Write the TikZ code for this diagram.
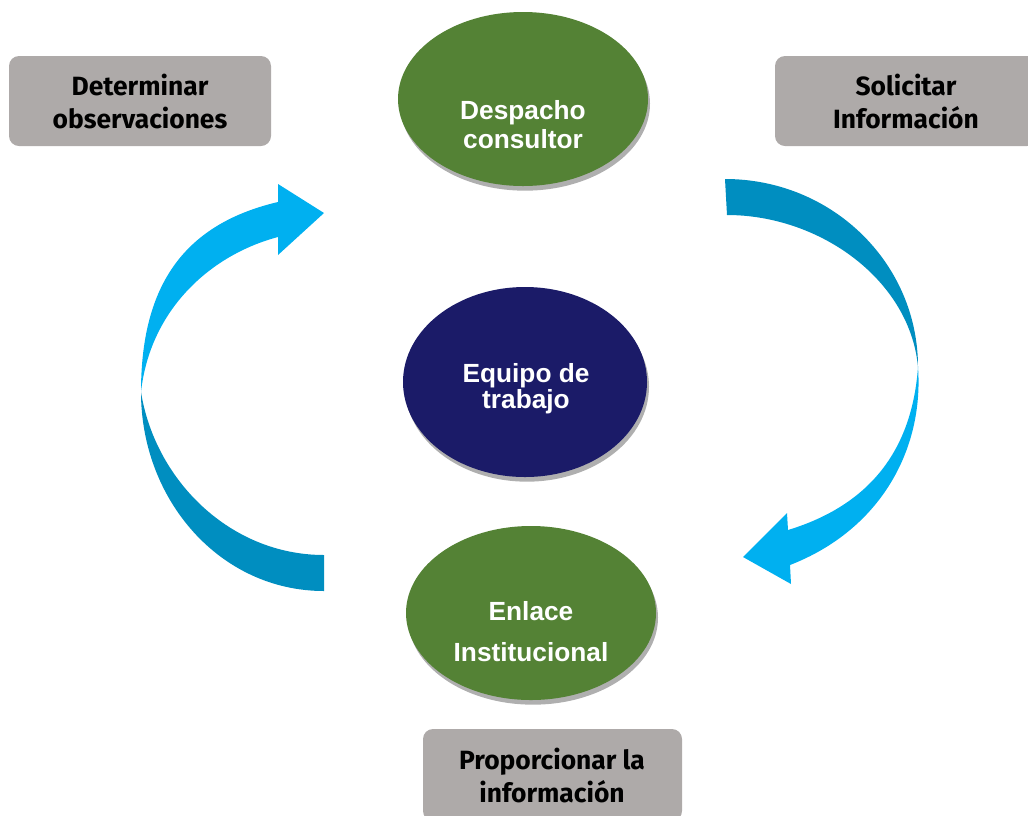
\documentclass[tikz,border=0pt]{standalone}
\usepackage{fontspec}
\newfontfamily\elfont{Liberation Sans}
\newfontfamily\boxfont{Fira Sans}
\usetikzlibrary{shapes.geometric,shadows}
\definecolor{boxgray}{RGB}{174,170,169}
\definecolor{leafgreen}{RGB}{84,130,53}
\definecolor{navyblue}{RGB}{27,27,104}
\definecolor{arrowdark}{RGB}{0,142,192}
\definecolor{arrowlight}{RGB}{0,176,240}
\begin{document}
\begin{tikzpicture}[x=0.75pt,y=-0.75pt,
  graybox/.style={rectangle, rounded corners=7.5pt, fill=boxgray, inner sep=0pt},
  boxtext/.style={font=\boxfont\bfseries\fontsize{19.8}{24.5}\selectfont, align=center, text=black, inner sep=0pt, anchor=base},
  oval/.style={ellipse, inner sep=0pt, drop shadow={shadow xshift=1.5pt, shadow yshift=-3.5pt, fill=black!35, opacity=0.9}},
  ovaltext/.style={font=\elfont\bfseries\fontsize{19.7}{21.75}\selectfont, align=center, text=white, inner sep=0pt, anchor=base}]
\useasboundingbox (0,0) rectangle (1028,815);
\clip (0,0) rectangle (1028,815);

% gray boxes
\node[graybox, minimum width=196.5pt, minimum height=67.5pt] (b1) at (140,101) {};
\node[boxtext] (t1) at (140,128) {Determinar\\observaciones};
\node[graybox, minimum width=196.5pt, minimum height=67.5pt] (b2) at (906,101) {};
\node[boxtext] (t2) at (906,128) {Solicitar\\Información};
\node[graybox, minimum width=194.25pt, minimum height=69pt] (b3) at (552.5,775) {};
\node[boxtext] (t3) at (552,802) {Proporcionar la\\información};

% ellipses
\node[oval, fill=leafgreen, minimum width=187.5pt, minimum height=130.5pt] (e1) at (523,99) {};
\node[ovaltext] (et1) at (523,148) {Despacho\\consultor};
\node[oval, fill=navyblue, minimum width=183pt, minimum height=142.5pt] (e2) at (525,382) {};
\node[ovaltext, font=\elfont\bfseries\fontsize{19.7}{19.5}\selectfont] (et2) at (526,408) {Equipo de\\trabajo};
\node[oval, fill=leafgreen, minimum width=187.5pt, minimum height=130.5pt] (e3) at (531,613) {};
\node[ovaltext, font=\elfont\bfseries\fontsize{19.7}{30.75}\selectfont] (et3) at (531,661) {Enlace\\Institucional};

% right arrow (clockwise)
\fill[arrowdark] (725,179) .. controls (832,179) and (918,263) .. (918,367)
  .. controls (910,280) and (820,215) .. (727,215) -- cycle;
\fill[arrowlight] (918,367) .. controls (924,450) and (880,530) .. (790,565)
  -- (791,584) -- (743,557) -- (787,513) -- (788,530)
  .. controls (870,505) and (912,450) .. (918,367) -- cycle;

% left arrow
\fill[arrowdark] (324,591) .. controls (220,591) and (141,500) .. (141,392)
  .. controls (155,480) and (230,555) .. (324,555) -- cycle;
\fill[arrowlight] (141,392) .. controls (141,290) and (180,225) .. (278,202)
  -- (278,184) -- (324,213) -- (278,255) -- (278,237)
  .. controls (210,255) and (150,310) .. (141,392) -- cycle;
\end{tikzpicture}
\end{document}
